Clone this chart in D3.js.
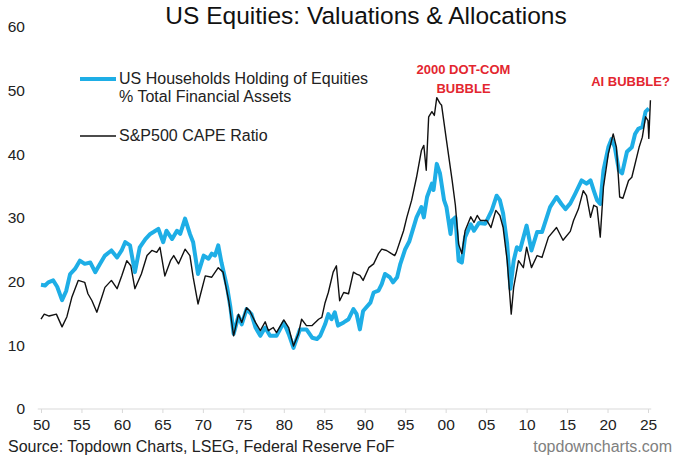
<!DOCTYPE html>
<html>
<head>
<meta charset="utf-8">
<script src="https://cdn.jsdelivr.net/npm/d3@7"></script>
<style>
  html, body { margin: 0; padding: 0; background: #fff; }
  svg { display: block; font-family: "Liberation Sans", Arial, sans-serif; }
</style>
</head>
<body>
<svg id="chart" width="680" height="459"></svg>
<script>
// ---- Data ----
const yTicks = [0, 10, 20, 30, 40, 50, 60];
const xTickYears = [1950, 1955, 1960, 1965, 1970, 1975, 1980, 1985, 1990, 1995, 2000, 2005, 2010, 2015, 2020, 2025];
const xTickLabels = ["50", "55", "60", "65", "70", "75", "80", "85", "90", "95", "00", "05", "10", "15", "20", "25"];

// US Households holding of equities, % of total financial assets  [year, value]
const householdEquities = [
  [1950.0,19.5],[1950.5,19.4],[1950.9,19.9],[1951.5,20.2],[1952.0,19.2],[1952.6,17.1],[1953.1,18.5],[1953.6,21.2],
  [1954.2,22.0],[1954.8,23.3],[1955.4,22.8],[1956.1,23.0],[1956.7,21.5],[1957.3,22.8],[1957.9,24.1],[1958.7,24.9],
  [1959.4,23.8],[1960.0,25.0],[1960.4,26.2],[1961.0,25.7],[1961.6,21.5],[1962.2,25.4],[1962.9,26.7],[1963.5,27.5],
  [1963.9,27.8],[1964.5,28.3],[1965.1,26.2],[1965.5,28.0],[1966.2,26.7],[1966.8,28.0],[1967.2,27.5],[1967.8,29.9],
  [1968.4,27.5],[1968.8,26.2],[1969.4,21.2],[1970.1,24.1],[1970.7,23.6],[1971.1,24.4],[1971.5,24.1],[1971.9,25.7],
  [1972.3,23.0],[1973.0,19.1],[1973.4,16.0],[1973.8,11.8],[1974.4,14.6],[1974.8,13.3],[1975.4,15.7],[1976.0,14.9],
  [1976.5,12.8],[1977.1,11.5],[1977.7,12.8],[1978.3,11.5],[1979.1,11.5],[1980.0,13.6],[1980.6,11.8],[1981.2,9.6],
  [1982.0,12.5],[1982.8,12.5],[1983.5,11.2],[1984.1,11.0],[1984.5,11.5],[1985.1,13.3],[1985.5,14.9],[1985.9,14.1],
  [1986.3,15.2],[1986.7,13.1],[1987.4,13.6],[1988.0,14.1],[1988.6,15.7],[1989.0,14.9],[1989.4,12.5],[1989.8,15.4],
  [1990.7,16.7],[1991.1,18.3],[1991.7,18.6],[1992.1,19.6],[1992.5,21.2],[1993.1,20.7],[1993.5,19.9],[1994.0,20.7],
  [1994.4,22.8],[1995.0,25.1],[1995.5,26.3],[1996.4,30.1],[1997.0,31.7],[1997.3,30.1],[1997.7,33.3],
  [1998.3,35.4],[1998.5,34.4],[1998.9,38.5],[1999.3,37.0],[1999.8,32.8],[2000.1,31.7],[2000.6,27.5],[2000.8,29.6],
  [2001.2,30.1],[2001.6,23.3],[2002.0,23.0],[2002.4,27.0],[2003.1,29.0],[2003.5,28.0],[2004.1,29.2],[2004.9,29.1],
  [2005.7,31.2],[2006.3,33.5],[2006.7,32.8],[2007.1,30.7],[2007.6,25.9],[2008.0,18.9],[2008.4,23.3],[2008.8,25.4],
  [2009.2,25.0],[2010.0,28.8],[2010.6,24.9],[2011.3,27.8],[2011.9,27.8],[2012.9,31.7],[2013.7,33.3],[2014.3,32.2],
  [2014.8,31.4],[2015.4,32.3],[2016.0,33.8],[2016.8,35.9],[2017.4,35.4],[2017.9,35.9],[2018.3,34.3],[2018.7,32.8],
  [2019.1,32.2],[2019.5,37.5],[2020.1,41.1],[2020.5,42.4],[2020.9,41.1],[2021.4,37.5],[2021.8,37.0],[2022.4,40.4],
  [2023.0,41.1],[2023.4,43.2],[2023.8,44.0],[2024.3,44.3],[2024.7,46.7],[2025.1,47.2]
];

// S&P500 CAPE ratio  [year, value]
const capeRatio = [
  [1950.0,14.1],[1950.4,14.9],[1951.0,14.6],[1951.9,14.9],[1952.6,12.9],[1953.2,14.5],[1953.8,17.5],[1954.6,20.2],
  [1955.4,19.9],[1955.8,18.1],[1956.3,17.0],[1956.9,15.2],[1957.5,17.5],[1957.9,19.1],[1958.7,20.2],[1959.4,18.9],
  [1960.0,21.0],[1960.6,23.3],[1961.1,22.5],[1961.6,18.9],[1962.4,21.2],[1963.1,24.1],[1963.7,24.9],[1964.3,24.6],
  [1964.7,25.4],[1965.3,20.9],[1966.0,23.3],[1966.4,24.1],[1967.0,22.8],[1967.8,25.1],[1968.4,24.1],[1968.8,20.7],
  [1969.4,16.5],[1970.3,20.9],[1971.1,20.7],[1971.9,22.2],[1972.5,21.5],[1973.2,17.0],[1973.8,11.5],[1974.4,14.9],
  [1974.8,13.6],[1975.4,15.9],[1975.8,15.4],[1976.5,13.6],[1977.1,12.3],[1977.7,13.7],[1978.1,12.3],[1978.7,12.8],
  [1979.1,12.0],[1980.0,14.0],[1980.6,12.8],[1981.2,9.9],[1981.8,11.8],[1982.2,14.1],[1982.8,13.1],[1983.5,13.1],
  [1984.3,14.1],[1984.7,14.4],[1985.1,16.7],[1985.5,18.3],[1986.1,21.5],[1986.5,22.5],[1986.9,17.0],[1987.4,18.3],
  [1988.0,18.1],[1988.6,21.5],[1989.0,21.2],[1989.4,21.0],[1989.8,20.2],[1990.5,22.2],[1991.1,22.8],[1991.7,24.4],
  [1992.1,25.1],[1992.7,24.9],[1993.3,24.4],[1993.7,24.1],[1993.9,24.6],[1994.4,26.5],[1994.8,28.0],[1995.2,30.1],
  [1995.8,32.8],[1996.4,36.4],
  [1997.0,40.6],[1997.3,41.4],[1997.6,37.5],[1997.9,45.9],[1998.3,46.7],[1998.6,46.1],[1998.9,48.9],[1999.3,48.0],
  [1999.5,47.7],[2000.1,42.2],[2000.8,35.9],[2001.2,32.0],[2001.6,25.9],[2002.0,24.4],[2002.4,28.0],[2003.1,30.2],
  [2003.5,29.3],[2003.9,30.4],[2004.3,29.6],[2005.1,29.6],[2005.6,28.5],[2006.2,31.2],[2006.7,30.4],[2007.1,28.5],
  [2007.6,23.3],[2008.1,14.9],[2008.4,19.1],[2009.0,23.3],[2009.6,22.2],[2010.0,25.4],[2010.6,22.2],[2011.3,24.1],
  [2011.9,23.8],[2012.7,27.0],[2013.7,28.5],[2014.5,26.5],[2015.4,27.9],[2015.8,29.6],[2016.4,31.4],[2017.0,34.3],
  [2017.4,33.5],[2017.9,30.1],[2018.3,32.0],[2018.7,31.7],[2019.1,27.0],[2019.5,34.9],[2020.1,40.1],[2020.7,43.2],
  [2021.1,41.1],[2021.5,33.3],[2021.9,33.1],[2022.6,35.9],[2023.0,36.4],[2023.9,41.1],[2024.3,42.7],[2024.7,45.9],
  [2025.0,45.3],[2025.1,42.5],[2025.3,48.5]
];

const titleText = "US Equities: Valuations & Allocations";
const legendLabels = [["US Households Holding of Equities", "% Total Financial Assets"], ["S&P500 CAPE Ratio"]];
const annotationLines = [["2000 DOT-COM", "BUBBLE"], ["AI BUBBLE?"]];
const sourceText = "Source: Topdown Charts, LSEG, Federal Reserve FoF";
const brandText = "topdowncharts.com";

// ---- Drawing ----
const svg = d3.select("#chart");
const blue = "#1eaee6", black = "#111111", red = "#e3262f";

const x = d3.scaleLinear().domain([1950, 2025]).range([41, 648]);
const y = d3.scaleLinear().domain([0, 60]).range([409, 27]);

// title
svg.append("text").attr("x", 366).attr("y", 24).attr("text-anchor", "middle")
  .attr("font-size", 24.5).attr("fill", "#111").text(titleText);

// y tick labels (no axis line)
const yAxis = d3.axisLeft(y).tickValues(yTicks).tickSize(0).tickPadding(0).tickFormat(d3.format("d"));
const gy = svg.append("g").attr("transform", "translate(25,0)").call(yAxis);
gy.select(".domain").remove();
gy.selectAll("text").attr("font-size", 15.5).attr("fill", "#222")
  .attr("font-family", "Liberation Sans, Arial, sans-serif");

// x axis
const xAxis = d3.axisBottom(x).tickValues(xTickYears).tickSize(4).tickPadding(6)
  .tickFormat((d, i) => xTickLabels[i]);
const gx = svg.append("g").attr("transform", `translate(0,${y(0)})`).call(xAxis);
gx.select(".domain").attr("stroke", "#d9d9d9").attr("d", `M${x(1949.6)},0H${x(2025.4)}`);
gx.selectAll(".tick line").attr("stroke", "#d9d9d9");
gx.selectAll("text").attr("font-size", 15.5).attr("fill", "#222")
  .attr("font-family", "Liberation Sans, Arial, sans-serif");

// lines
const line = d3.line().x(d => x(d[0])).y(d => y(d[1]));
svg.append("path").datum(householdEquities).attr("d", line)
  .attr("fill", "none").attr("stroke", blue).attr("stroke-width", 4).attr("stroke-linejoin", "round");
svg.append("path").datum(capeRatio).attr("d", line)
  .attr("fill", "none").attr("stroke", black).attr("stroke-width", 1.4).attr("stroke-linejoin", "round");

// legend
const lg = svg.append("g");
lg.append("line").attr("x1", 80).attr("x2", 116).attr("y1", 79).attr("y2", 79)
  .attr("stroke", blue).attr("stroke-width", 4);
legendLabels[0].forEach((t, i) => lg.append("text").attr("x", 119).attr("y", 84 + i * 18)
  .attr("font-size", 16).attr("fill", "#222").text(t));
lg.append("line").attr("x1", 80).attr("x2", 116).attr("y1", 136).attr("y2", 136)
  .attr("stroke", black).attr("stroke-width", 1.4);
legendLabels[1].forEach((t, i) => lg.append("text").attr("x", 119).attr("y", 141 + i * 18)
  .attr("font-size", 16).attr("fill", "#222").text(t));

// annotations
const annPos = [[463.5, 74], [630.5, 86]];
annotationLines.forEach((lines, k) => {
  lines.forEach((t, i) => svg.append("text")
    .attr("x", annPos[k][0]).attr("y", annPos[k][1] + i * 18.5)
    .attr("text-anchor", "middle").attr("font-size", 13).attr("font-weight", "bold")
    .attr("fill", red).text(t));
});

// footer
svg.append("text").attr("x", 8).attr("y", 452).attr("font-size", 16).attr("fill", "#222").text(sourceText);
svg.append("text").attr("x", 672).attr("y", 452).attr("text-anchor", "end")
  .attr("font-size", 16).attr("fill", "#808080").text(brandText);
</script>
</body>
</html>
